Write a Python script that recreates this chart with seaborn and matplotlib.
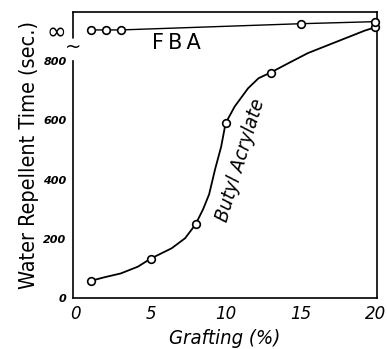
import matplotlib
matplotlib.use("Agg")
import matplotlib.pyplot as plt
import seaborn as sns
import pandas as pd

# measured points
ba_x = [1, 5, 8, 10, 13, 20]
ba_y = [58, 133, 249, 590, 761, 914]
fba_x = [1, 2, 3, 15, 20]
fba_y = [905, 905, 905, 926, 933]
# hand-drawn curve through the butyl acrylate points
curve_x = [1, 1.9, 3.0, 4.15, 5, 6.4, 7.3, 8, 8.5, 8.9, 9.3, 9.7, 10, 10.6, 11.5, 12.2, 13,
           14.2, 15.5, 16.9, 18.2, 19.3, 20]
curve_y = [58, 70, 83, 106, 133, 168, 202, 249, 300, 350, 435, 510, 590, 646, 708, 742, 761,
           793, 827, 855, 881, 903, 914]

x_ticks = [0, 5, 10, 15, 20]
y_ticks = [0, 200, 400, 600, 800]
inf_level = 905

sns.set_theme(style="white")
plt.rcParams['font.family'] = ['DejaVu Sans']
plt.rcParams['text.color'] = 'black'
plt.rcParams['axes.labelcolor'] = 'black'
plt.rcParams['xtick.color'] = 'black'
plt.rcParams['ytick.color'] = 'black'

fig = plt.figure(figsize=(3.87, 3.49), dpi=100)
ax = fig.add_axes([0.188, 0.146, 0.786, 0.820])

sns.lineplot(data=pd.DataFrame({"x": curve_x, "y": curve_y}), x="x", y="y",
             ax=ax, color="black", lw=1.3, sort=False)
sns.lineplot(data=pd.DataFrame({"x": fba_x, "y": fba_y}), x="x", y="y",
             ax=ax, color="black", lw=1.0, sort=False)
ax.plot(ba_x, ba_y, 'o', mfc='white', mec='black', mew=1.2, ms=5.5, zorder=5, clip_on=False)
ax.plot(fba_x, fba_y, 'o', mfc='white', mec='black', mew=1.2, ms=5.5, zorder=5, clip_on=False)

xmin, xmax = -0.2, 20.1
ax.set_xlim(xmin, xmax)
ax.set_ylim(0, 966)

ax.set_xticks(x_ticks)
ax.set_xticklabels([str(t) for t in x_ticks], fontsize=12, style='italic')
ax.set_yticks(y_ticks + [inf_level])
ax.set_yticklabels([str(t) for t in y_ticks] + ["\u221e"])
for lab in ax.get_yticklabels()[:-1]:
    lab.set_fontsize(8)
    lab.set_style('italic')
    lab.set_fontweight('bold')
inf_lab = ax.get_yticklabels()[-1]
inf_lab.set_fontsize(17)
ax.tick_params(axis='x', direction='in', length=3, width=1, pad=5)
ax.tick_params(axis='y', direction='inout', length=5, width=1, pad=2)
ax.yaxis.get_major_ticks()[-1].tick1line.set_visible(False)

for s in ax.spines.values():
    s.set_color('black')
    s.set_linewidth(1.2)
# broken left axis
ax.spines['left'].set_bounds(0, 800)
ax.plot([xmin, xmin], [878, 966], color='black', lw=1.2, clip_on=False, zorder=6)
ax.text(xmin, 848, "~", ha='center', va='center', fontsize=14)

ax.set_xlabel("Grafting (%)", fontsize=14.5, style='italic', labelpad=4, fontstretch='condensed')
ax.set_ylabel("Water Repellent Time (sec.)", fontsize=15.5, labelpad=3, fontstretch='condensed')

ax.text(6.7, 861, "F\u2009B\u2009A", fontsize=15, ha='center', va='center')
ax.text(11.0, 466, "Butyl Acrylate", fontsize=14.5, style='italic', rotation=73,
        ha='center', va='center', fontstretch='condensed')

fig.savefig("out.png", dpi=100)
